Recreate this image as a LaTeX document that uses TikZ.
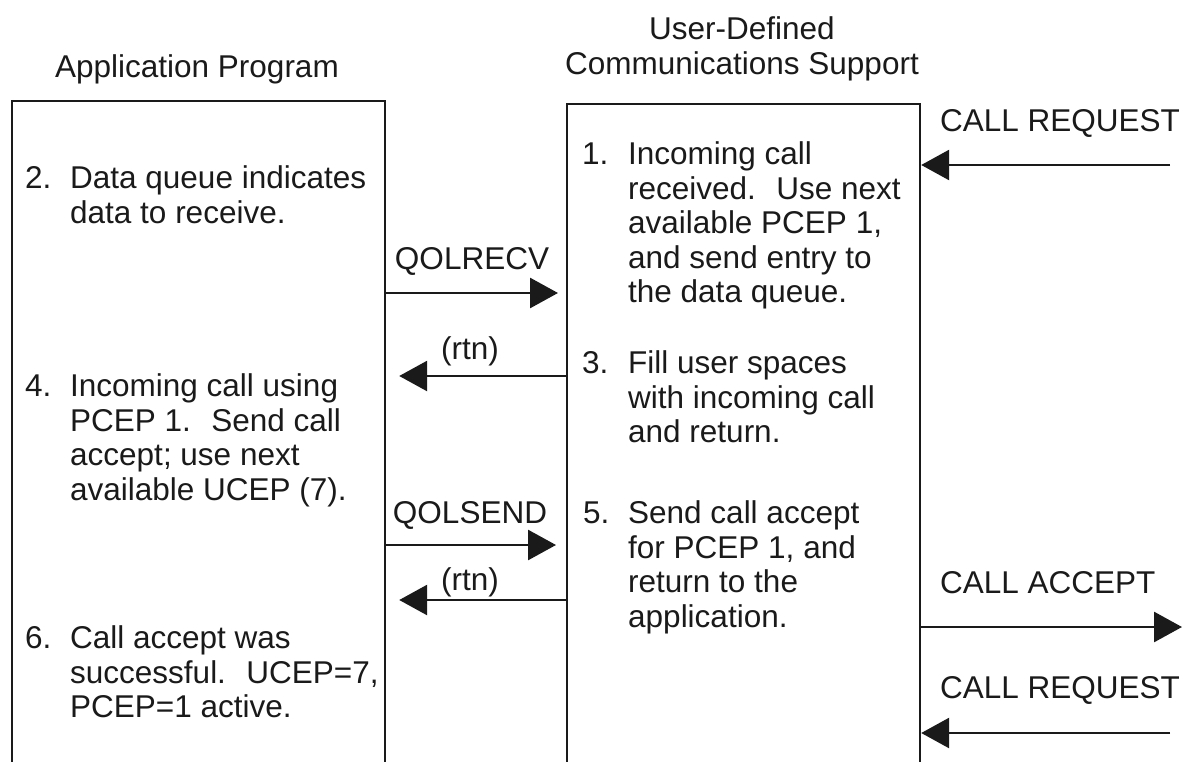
\documentclass[tikz,border=0pt]{standalone}
\usepackage{fontspec}
\setmainfont{Liberation Sans}
\usetikzlibrary{arrows.meta}
\definecolor{ink}{HTML}{1A1A1A}
\begin{document}
\begin{tikzpicture}[x=1pt,y=-1pt,
  lane/.style={draw=ink, line width=2.2pt, inner sep=0pt, anchor=north west, minimum height=720pt},
  txt/.style={inner sep=0pt, anchor=north west, align=left, text=ink, font=\fontsize{31.5}{34.5}\selectfont},
  num/.style={inner sep=0pt, anchor=north west, text=ink, font=\fontsize{31.5}{34.5}\selectfont},
  lbl/.style={inner sep=0pt, text=ink, font=\fontsize{31.5}{34.5}\selectfont},
  arr/.style={draw=ink, line width=2.8pt, -{Triangle[length=28pt,width=30pt]}}]
\fill[white] (0,0) rectangle (1188,762);
\useasboundingbox (0,0) rectangle (1188,762);

% titles
\node[lbl, anchor=base] (t1) at (197,77.5) {Application Program};
\node[lbl, anchor=north, align=center] (t2) at (742,15.4) {\strut User-Defined\\Communications Support};

% lanes (open at the bottom: they run past the page edge)
\node[lane, minimum width=373pt] (app) at (11,100) {};
\node[lane, minimum width=353pt] (ucs) at (566,103) {};

% step texts
\node[num] (n1) at (582,140.3) {\strut 1.};
\node[txt] (s1) at (628,140.3) {\strut Incoming call\\received.~ Use next\\available PCEP 1,\\and send entry to\\the data queue.};
\node[num] (n2) at (25,164.3) {\strut 2.};
\node[txt] (s2) at (70,164.3) {\strut Data queue indicates\\data to receive.};
\node[num] (n3) at (582,349.3) {\strut 3.};
\node[txt] (s3) at (628,349.3) {\strut Fill user spaces\\with incoming call\\and return.};
\node[num] (n4) at (25,372.3) {\strut 4.};
\node[txt] (s4) at (70,372.3) {\strut Incoming call using\\PCEP 1.~ Send call\\accept; use next\\available UCEP (7).};
\node[num] (n5) at (583,499.3) {\strut 5.};
\node[txt] (s5) at (628,499.3) {\strut Send call accept\\for PCEP 1, and\\return to the\\application.};
\node[num] (n6) at (25,624.3) {\strut 6.};
\node[txt] (s6) at (70,624.3) {\strut Call accept was\\successful.~ UCEP=7,\\PCEP=1 active.};

% connector labels
\node[lbl, anchor=base west] (cr1) at (940,131.5) {CALL REQUEST};
\node[lbl, anchor=base] (qr) at (472,269.5) {QOLRECV};
\node[lbl, anchor=base] (rt1) at (470,359) {(rtn)};
\node[lbl, anchor=base] (qs) at (470,523.5) {QOLSEND};
\node[lbl, anchor=base] (rt2) at (470,590) {(rtn)};
\node[lbl, anchor=base west] (ca) at (940,593.5) {CALL ACCEPT};
\node[lbl, anchor=base west] (cr2) at (940,698.5) {CALL REQUEST};

% free ends outside the lanes
\coordinate (in1) at (1170,165);
\coordinate (out1) at (1182,627);
\coordinate (in2) at (1170,733);

% connectors
\draw[arr] (in1) -- (ucs.east |- in1);
\draw[arr, shorten >=8pt] (app.east |- 0,293) -- (ucs.west |- 0,293);
\draw[arr, shorten >=13pt] (ucs.west |- 0,376) -- (app.east |- 0,376);
\draw[arr, shorten >=10pt] (app.east |- 0,545) -- (ucs.west |- 0,545);
\draw[arr, shorten >=13pt] (ucs.west |- 0,600) -- (app.east |- 0,600);
\draw[arr] (ucs.east |- out1) -- (out1);
\draw[arr] (in2) -- (ucs.east |- in2);
\end{tikzpicture}
\end{document}
